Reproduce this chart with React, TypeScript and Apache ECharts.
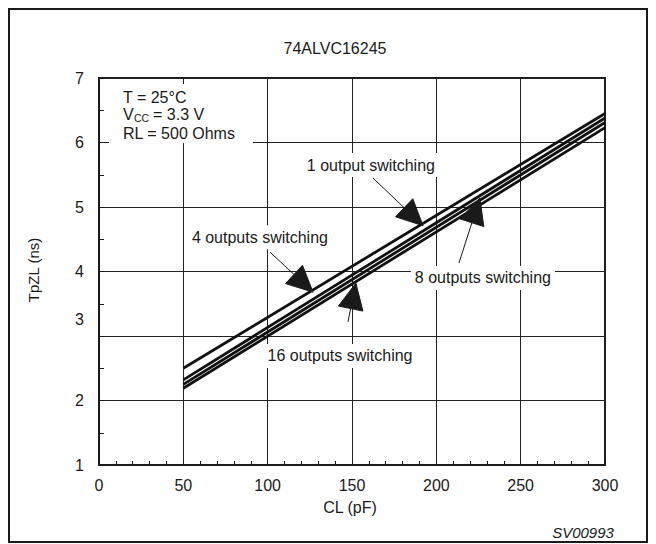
import React, { useEffect, useRef } from 'react';
import * as echarts from 'echarts';

// CL (pF) where each line is read
const capacitance = [50, 300];
// TpZL (ns)
const out1 = [2.5, 6.45];
const out4 = [2.32, 6.38];
const out8 = [2.25, 6.31];
const out16 = [2.19, 6.23];
const seriesNames = ['1 output switching', '4 outputs switching', '8 outputs switching', '16 outputs switching'];
const seriesValues = [out1, out4, out8, out16];

// annotation anchors in data units: label centre, arrow tail, arrow tip
const annLabels = ['1 output switching', '4 outputs switching', '8 outputs switching', '16 outputs switching'];
const annText = [[161.2, 5.65], [95.4, 4.53], [227.6, 3.9], [142.9, 2.69]];
const annTail = [[162.4, 5.45], [101.4, 4.3], [213.4, 4.13], [147.6, 3.22]];
const annTip = [[192.1, 4.71], [126.9, 3.68], [225.8, 5.14], [152.3, 3.82]];

const FONT = 'Liberation Sans, Arial, Helvetica, sans-serif';
const FS = 16;
const INK = '#1a1a1a';

export default function App() {
  const ref = useRef<HTMLDivElement>(null);
  useEffect(() => {
    if (!ref.current) return;
    const chart = echarts.init(ref.current, undefined, { renderer: 'svg' });
    chart.setOption({
      animation: false,
      backgroundColor: '#fff',
      textStyle: { fontFamily: FONT },
      title: {
        text: '74ALVC16245',
        left: 322,
        top: 27,
        textAlign: 'center',
        textStyle: { fontFamily: FONT, fontSize: FS, fontWeight: 'normal', color: INK },
      },
      grid: {
        left: 91,
        right: 43,
        top: 70,
        bottom: 79,
        show: true,
        borderColor: INK,
        borderWidth: 2,
      },
      xAxis: {
        type: 'value',
        min: 0,
        max: 300,
        interval: 50,
        axisLine: { show: true, lineStyle: { color: INK, width: 2 } },
        axisTick: { show: true, inside: true, length: 6, lineStyle: { color: INK, width: 1 } },
        minorTick: { show: true, splitNumber: 5, length: 4, lineStyle: { color: INK, width: 1 } },
        splitLine: { show: true, lineStyle: { color: '#222', width: 1 } },
        axisLabel: { fontFamily: FONT, fontSize: FS, color: INK, margin: 12 },
      },
      yAxis: {
        type: 'value',
        min: 1,
        max: 7,
        interval: 1,
        axisLine: { show: true, lineStyle: { color: INK, width: 2 } },
        axisTick: { show: true, inside: true, length: 6, lineStyle: { color: INK, width: 1 } },
        minorTick: { show: true, splitNumber: 2, length: 5, lineStyle: { color: INK, width: 1 } },
        splitLine: { show: true, lineStyle: { color: '#222', width: 1 } },
        axisLabel: {
          fontFamily: FONT,
          fontSize: FS,
          color: INK,
          margin: 15,
          lineHeight: 17,
          formatter: (v: number) => (v === 3 ? '3\n \n ' : String(v)),
        },
      },
      series: seriesValues.map((vals, i) => ({
        name: seriesNames[i],
        type: 'line',
        symbol: 'none',
        z: 3,
        lineStyle: { color: '#111', width: 2.8 },
        data: capacitance.map((c, j) => [c, vals[j]]),
      })),
    });

    const px = (p: number[]) => chart.convertToPixel({ gridIndex: 0 }, p) as number[];
    const graphics: any[] = [];
    graphics.push({
      type: 'rect',
      z: 10,
      shape: { x: 1, y: 1, width: 638, height: 533 },
      style: { fill: 'none', stroke: INK, lineWidth: 2 },
    });
    // conditions box
    graphics.push({
      type: 'rect',
      z: 1,
      shape: { x: 101, y: 76, width: 144, height: 59 },
      style: { fill: '#fff' },
    });
    const tStyle = (extra: any) => ({ fill: INK, fontFamily: FONT, fontSize: FS, verticalAlign: 'middle', ...extra });
    graphics.push({ type: 'text', z: 2, x: 115, y: 89, style: tStyle({ text: 'T = 25°C' }) });
    graphics.push({ type: 'text', z: 2, x: 115, y: 106, style: tStyle({ text: 'V' }) });
    graphics.push({ type: 'text', z: 2, x: 126, y: 110, style: tStyle({ text: 'CC', fontSize: 10.5 }) });
    graphics.push({ type: 'text', z: 2, x: 145, y: 106, style: tStyle({ text: '= 3.3 V' }) });
    graphics.push({ type: 'text', z: 2, x: 115, y: 125, style: tStyle({ text: 'RL = 500 Ohms' }) });

    // annotations
    annLabels.forEach((lab, i) => {
      const c = px(annText[i]);
      graphics.push({
        type: 'text',
        z: 2,
        x: c[0],
        y: c[1],
        style: tStyle({ text: lab, align: 'center', backgroundColor: '#fff', padding: [4, 4] }),
      });
      const a = px(annTail[i]);
      const t = px(annTip[i]);
      const dx = t[0] - a[0];
      const dy = t[1] - a[1];
      const len = Math.sqrt(dx * dx + dy * dy);
      const ux = dx / len;
      const uy = dy / len;
      const L = 26;
      const W = 12.5;
      const bx = t[0] - ux * L;
      const by = t[1] - uy * L;
      graphics.push({
        type: 'line',
        z: 4,
        shape: { x1: a[0], y1: a[1], x2: bx, y2: by },
        style: { stroke: INK, lineWidth: 1 },
      });
      graphics.push({
        type: 'polygon',
        z: 4,
        shape: {
          points: [
            [t[0], t[1]],
            [bx - uy * W, by + ux * W],
            [bx + uy * W, by - ux * W],
          ],
        },
        style: { fill: INK, stroke: INK, lineWidth: 1 },
      });
    });

    // axis names and figure code
    graphics.push({
      type: 'text',
      z: 2,
      x: 25,
      y: 262,
      rotation: Math.PI / 2,
      style: tStyle({ text: 'TpZL (ns)', align: 'center', fontSize: 15 }),
    });
    graphics.push({ type: 'text', z: 2, x: 342, y: 499, style: tStyle({ text: 'CL (pF)', align: 'center' }) });
    graphics.push({
      type: 'text',
      z: 2,
      x: 575,
      y: 524,
      style: tStyle({ text: 'SV00993', align: 'center', fontStyle: 'italic', fontSize: 15 }),
    });

    chart.setOption({ graphic: graphics });
    return () => chart.dispose();
  }, []);
  return <div ref={ref} style={{ width: 640, height: 536 }} />;
}
